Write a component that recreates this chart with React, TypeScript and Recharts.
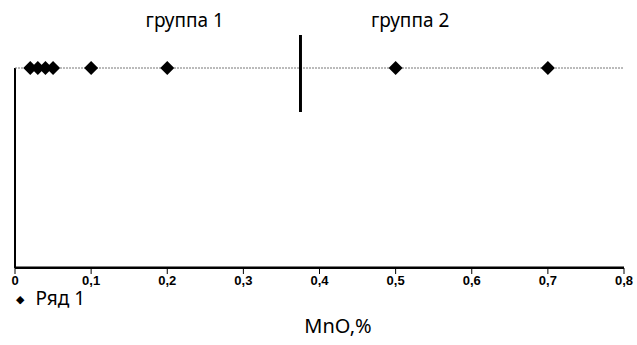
import { ScatterChart, Scatter, XAxis, YAxis, ReferenceLine, ReferenceDot } from "recharts";

const mnoValues = [0.02, 0.03, 0.04, 0.05, 0.1, 0.2, 0.5, 0.7];
const rowLevel = 1;
const xTicks = [0, 0.1, 0.2, 0.3, 0.4, 0.5, 0.6, 0.7, 0.8];
const baseLine = [
  { x: 0, y: 0 },
  { x: 0.8, y: 0 },
];
const groupLabels = [
  { name: "группа 1", x: 0.223 },
  { name: "группа 2", x: 0.519 },
];
const dividerX = 0.375;

const points = mnoValues.map((v) => ({ x: v, y: rowLevel }));
const roundFont = "'Noto Sans', 'DejaVu Sans', sans-serif";

const Diamond = (p: any) => {
  const { cx, cy } = p;
  const r = 7;
  return <polygon points={`${cx},${cy - r} ${cx + r},${cy} ${cx},${cy + r} ${cx - r},${cy}`} fill="#000" />;
};

export default function App() {
  return (
    <div style={{ position: "absolute", left: 0, top: 0, width: 637, height: 345, background: "#fff" }}>
      <ScatterChart width={637} height={345} margin={{ top: 0, right: 13, bottom: 0, left: 14 }}>
        <XAxis
          type="number"
          dataKey="x"
          domain={[0, 0.8]}
          ticks={xTicks}
          tickFormatter={(v: number) => String(v).replace(".", ",")}
          height={77}
          stroke="#000"
          tick={{ fill: "#000", fontSize: 13, fontWeight: 700, fontFamily: "'Liberation Sans', Arial, sans-serif" }}
        />
        <YAxis type="number" dataKey="y" domain={[0, 1.34]} ticks={[0, 1]} width={1} tick={false} tickSize={3} axisLine={false} stroke="#000" />
        <ReferenceLine segment={[{ x: 0, y: 0 }, { x: 0, y: rowLevel }]} stroke="#000" strokeWidth={2} />
        <ReferenceLine y={0.003} stroke="#000" strokeWidth={2} />
        <ReferenceLine y={rowLevel} stroke="#777" strokeDasharray="2 1" />
        <ReferenceLine segment={[{ x: dividerX, y: 0.78 }, { x: dividerX, y: 1.165 }]} stroke="#000" strokeWidth={3} />
        {groupLabels.map((g) => (
          <ReferenceDot
            key={g.name}
            x={g.x}
            y={1.24}
            r={0}
            label={{ value: g.name, position: "center", fill: "#000", fontSize: 19, fontFamily: roundFont }}
          />
        ))}
        <Scatter data={baseLine} line={{ stroke: "#000", strokeWidth: 2 }} shape={() => <g />} isAnimationActive={false} />
        <Scatter data={points} shape={Diamond} isAnimationActive={false} />
      </ScatterChart>
      <div style={{ position: "absolute", left: 16, top: 285, fontFamily: roundFont, fontSize: 19, color: "#000", display: "flex", alignItems: "center" }}>
        <span style={{ fontSize: 11, marginRight: 11 }}>◆</span>Ряд 1
      </div>
      <div style={{ position: "absolute", left: 238, width: 200, top: 312, textAlign: "center", fontFamily: roundFont, fontSize: 20, color: "#000" }}>
        MnO,%
      </div>
    </div>
  );
}
